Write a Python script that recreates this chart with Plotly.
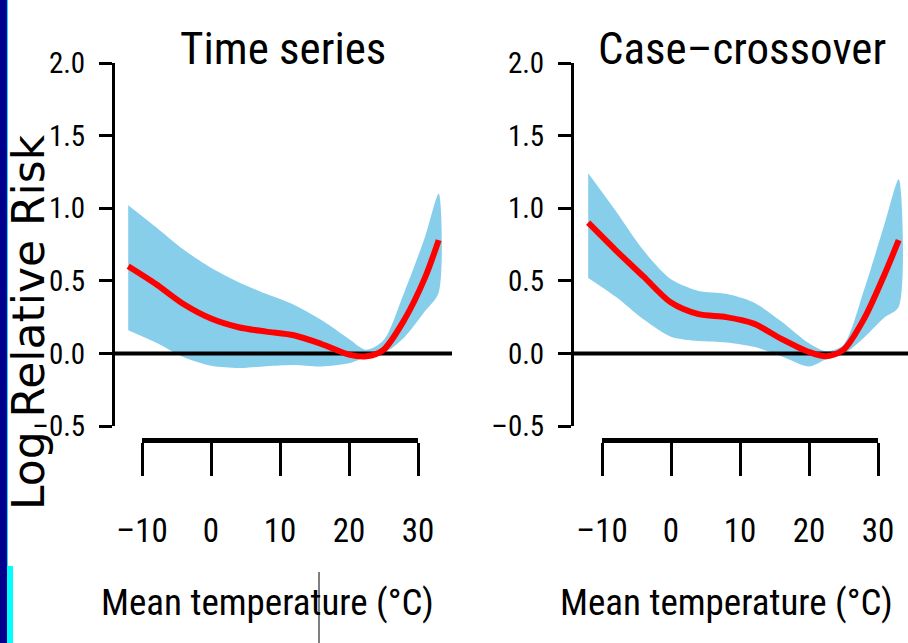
import plotly.graph_objects as go

W, H = 908, 643

# ---------------- data ----------------
temps = [-12, -8, -4, 0, 4, 8, 12, 16, 20, 22.5, 25, 28, 31, 33]

ts_fit   = [0.60, 0.478, 0.34, 0.24, 0.18, 0.15, 0.125, 0.065, -0.008, -0.02, 0.025, 0.23, 0.52, 0.78]
ts_upper = [1.02, 0.87, 0.715, 0.59, 0.49, 0.41, 0.335, 0.23, 0.10, 0.025, 0.09, 0.42, 0.80, 1.10]
ts_lower = [0.16, 0.075, -0.025, -0.085, -0.10, -0.088, -0.08, -0.09, -0.068, -0.025, 0.0, 0.11, 0.29, 0.42]

cc_fit   = [0.90, 0.71, 0.53, 0.35, 0.27, 0.25, 0.205, 0.10, 0.01, -0.02, 0.025, 0.24, 0.55, 0.78]
cc_upper = [1.24, 0.98, 0.71, 0.51, 0.43, 0.41, 0.35, 0.22, 0.07, 0.015, 0.06, 0.44, 0.90, 1.20]
cc_lower = [0.52, 0.39, 0.235, 0.115, 0.085, 0.075, 0.045, -0.02, -0.09, -0.04, -0.005, 0.11, 0.25, 0.32]

panel_titles = ["Time series", "Case\u2013crossover"]
x_tickvals = [-10, 0, 10, 20, 30]
x_ticktext = ["\u201310", "0", "10", "20", "30"]
y_tickvals = [-0.5, 0.0, 0.5, 1.0, 1.5, 2.0]
y_ticktext = ["\u20130.5", "0.0", "0.5", "1.0", "1.5", "2.0"]
x_title = "Mean temperature (\u00b0C)"
y_title = "Log Relative Risk"

# ---------------- style ----------------
BAND = "#87CEEB"
RED = "#FF0000"
NARROW = "Roboto Condensed, DejaVu Sans Condensed, sans-serif"
WIDE = "DejaVu Sans, Verdana, sans-serif"

def px_x(p):
    return p / W

def px_y(p):
    return 1 - p / H

panels = [
    dict(left=115, right=452, t0=142, t1=418, fit=ts_fit, up=ts_upper, lo=ts_lower, title_x=283, xt_x=267),
    dict(left=574, right=908, t0=602, t1=878, fit=cc_fit, up=cc_upper, lo=cc_lower, title_x=742, xt_x=726),
]
Y_TOP, Y_BOT = 63, 426
X_AXIS_Y = 440

fig = go.Figure()
layout = dict(
    width=W, height=H, margin=dict(l=0, r=0, t=0, b=0, autoexpand=False),
    paper_bgcolor="white", plot_bgcolor="rgba(0,0,0,0)",
    showlegend=False, font=dict(family=NARROW, color="black"),
)
annotations = []
shapes = []

for i, p in enumerate(panels):
    n = i + 1
    xd = "x" if n == 1 else f"x{n}"
    yd = "y" if n == 1 else f"y{n}"
    xs = f"x{n+2}"
    scale = (p["t1"] - p["t0"]) / 40.0
    x_lo = -10 + (p["left"] - p["t0"]) / scale
    x_hi = -10 + (p["right"] - p["t0"]) / scale

    # confidence band
    fig.add_trace(go.Scatter(
        x=temps + temps[::-1], y=p["up"] + p["lo"][::-1],
        xaxis=xd, yaxis=yd, mode="lines", fill="toself",
        fillcolor=BAND, line=dict(width=0, color=BAND, shape="spline", smoothing=0.8),
        hoverinfo="skip"))
    # zero reference line
    fig.add_trace(go.Scatter(
        x=[x_lo, x_hi], y=[0, 0], xaxis=xd, yaxis=yd, mode="lines",
        line=dict(color="black", width=4), hoverinfo="skip"))
    # fitted curve
    fig.add_trace(go.Scatter(
        x=temps, y=p["fit"], xaxis=xd, yaxis=yd, mode="lines",
        line=dict(color=RED, width=6, shape="spline", smoothing=0.8)))
    # empty trace hosting the displayed (R-style, offset) x axis
    fig.add_trace(go.Scatter(x=[None], y=[None], xaxis=xs, yaxis=yd, mode="lines",
                             hoverinfo="skip"))

    layout["xaxis" if n == 1 else f"xaxis{n}"] = dict(
        domain=[px_x(p["left"]), px_x(p["right"])], range=[x_lo, x_hi],
        visible=False, anchor=yd, fixedrange=True, automargin=False)
    layout["yaxis" if n == 1 else f"yaxis{n}"] = dict(
        domain=[px_y(Y_BOT), px_y(Y_TOP)], range=[-0.5, 2.0], anchor=xd,
        showgrid=False, zeroline=False, showline=True, linecolor="black", linewidth=3,
        ticks="outside", ticklen=13, tickwidth=3, tickcolor="black",
        tickvals=y_tickvals, ticktext=y_ticktext, ticklabelstandoff=8, automargin=False,
        tickfont=dict(family=NARROW, size=29, color="black"), fixedrange=True)
    layout[f"xaxis{n+2}"] = dict(
        domain=[px_x(p["t0"]), px_x(p["t1"])], range=[-10, 30],
        anchor="free", position=px_y(X_AXIS_Y), automargin=False,
        showgrid=False, zeroline=False, showline=True, linecolor="black", linewidth=5,
        ticks="outside", ticklen=33, tickwidth=3, tickcolor="black",
        tickvals=x_tickvals, ticktext=x_ticktext, ticklabelstandoff=26,
        tickfont=dict(family=NARROW, size=33, color="black"), fixedrange=True)

    annotations.append(dict(text=panel_titles[i], x=px_x(p["title_x"]), y=px_y(48),
                            xref="paper", yref="paper", showarrow=False,
                            xanchor="center", yanchor="middle",
                            font=dict(family=NARROW, size=45, color="black")))
    annotations.append(dict(text=x_title, x=px_x(p["xt_x"]), y=px_y(602),
                            xref="paper", yref="paper", showarrow=False,
                            xanchor="center", yanchor="middle",
                            font=dict(family=NARROW, size=37, color="black")))

annotations.append(dict(text=y_title, x=px_x(28), y=px_y(322), xref="paper", yref="paper",
                        showarrow=False, textangle=-90, xanchor="center", yanchor="middle",
                        font=dict(family=WIDE, size=44, color="black")))

# left-edge frame strip and thin cursor mark seen in the original image
shapes += [
    dict(type="rect", xref="paper", yref="paper", x0=0, x1=px_x(7), y0=0, y1=1,
         fillcolor="#00008C", line=dict(width=0), layer="below"),
    dict(type="rect", xref="paper", yref="paper", x0=px_x(7), x1=px_x(8), y0=px_y(566), y1=1,
         fillcolor="#00E5FF", line=dict(width=0), layer="below"),
    dict(type="rect", xref="paper", yref="paper", x0=px_x(7), x1=px_x(13), y0=0, y1=px_y(566),
         fillcolor="#00FFFF", line=dict(width=0), layer="below"),
    dict(type="line", xref="paper", yref="paper", x0=px_x(319), x1=px_x(319), y0=0, y1=px_y(572),
         line=dict(color="black", width=1), layer="above"),
]

layout["annotations"] = annotations
layout["shapes"] = shapes
fig.update_layout(**layout)
fig.write_html("out.html")
